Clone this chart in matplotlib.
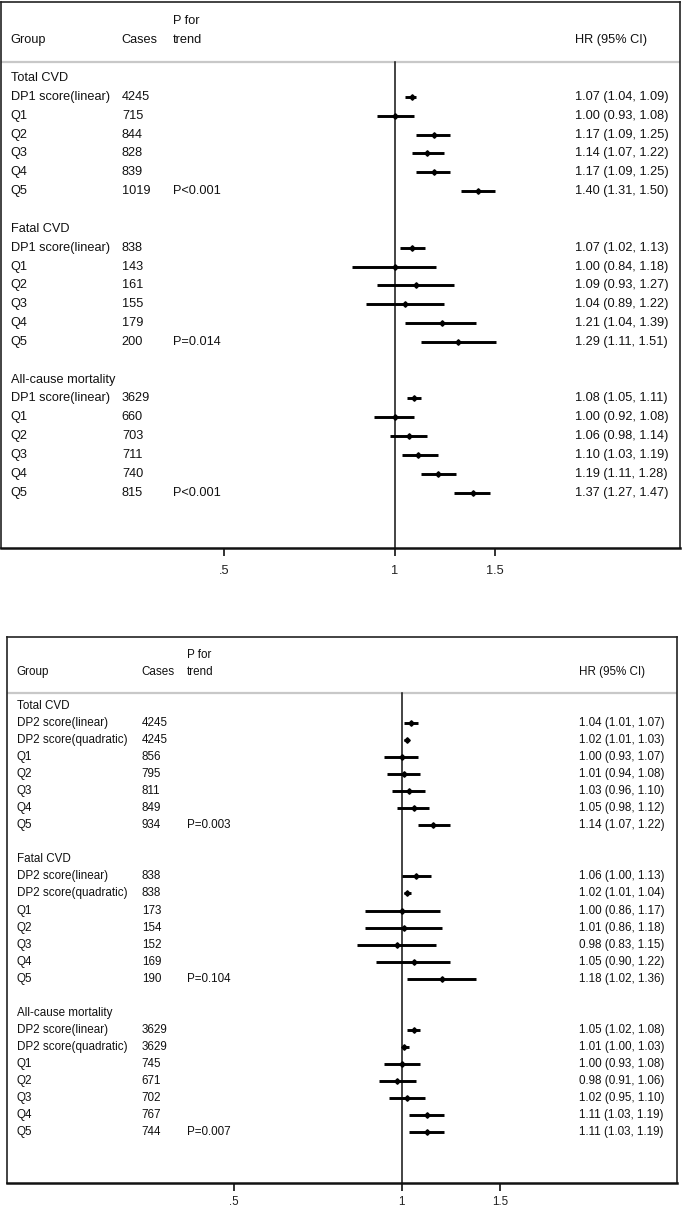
import matplotlib
matplotlib.use("Agg")
import matplotlib.pyplot as plt
import matplotlib.transforms as mtransforms

plt.rcParams['font.family'] = ['Liberation Sans', 'DejaVu Sans']

# ---- data: DP1 panel ----
top_sections = ["Total CVD", "Fatal CVD", "All-cause mortality"]
top_labels = ["DP1 score(linear)", "Q1", "Q2", "Q3", "Q4", "Q5"] * 3
top_cases = [4245, 715, 844, 828, 839, 1019,
             838, 143, 161, 155, 179, 200,
             3629, 660, 703, 711, 740, 815]
top_ptrend = ["", "", "", "", "", "P<0.001",
              "", "", "", "", "", "P=0.014",
              "", "", "", "", "", "P<0.001"]
top_hr = [1.07, 1.00, 1.17, 1.14, 1.17, 1.40,
          1.07, 1.00, 1.09, 1.04, 1.21, 1.29,
          1.08, 1.00, 1.06, 1.10, 1.19, 1.37]
top_lo = [1.04, 0.93, 1.09, 1.07, 1.09, 1.31,
          1.02, 0.84, 0.93, 0.89, 1.04, 1.11,
          1.05, 0.92, 0.98, 1.03, 1.11, 1.27]
top_hi = [1.09, 1.08, 1.25, 1.22, 1.25, 1.50,
          1.13, 1.18, 1.27, 1.22, 1.39, 1.51,
          1.11, 1.08, 1.14, 1.19, 1.28, 1.47]

# ---- data: DP2 panel ----
bot_sections = ["Total CVD", "Fatal CVD", "All-cause mortality"]
bot_labels = ["DP2 score(linear)", "DP2 score(quadratic)",
              "Q1", "Q2", "Q3", "Q4", "Q5"] * 3
bot_cases = [4245, 4245, 856, 795, 811, 849, 934,
             838, 838, 173, 154, 152, 169, 190,
             3629, 3629, 745, 671, 702, 767, 744]
bot_ptrend = ["", "", "", "", "", "", "P=0.003",
              "", "", "", "", "", "", "P=0.104",
              "", "", "", "", "", "", "P=0.007"]
bot_hr = [1.04, 1.02, 1.00, 1.01, 1.03, 1.05, 1.14,
          1.06, 1.02, 1.00, 1.01, 0.98, 1.05, 1.18,
          1.05, 1.01, 1.00, 0.98, 1.02, 1.11, 1.11]
bot_lo = [1.01, 1.01, 0.93, 0.94, 0.96, 0.98, 1.07,
          1.00, 1.01, 0.86, 0.86, 0.83, 0.90, 1.02,
          1.02, 1.00, 0.93, 0.91, 0.95, 1.03, 1.03]
bot_hi = [1.07, 1.03, 1.07, 1.08, 1.10, 1.12, 1.22,
          1.13, 1.04, 1.17, 1.18, 1.15, 1.22, 1.36,
          1.08, 1.03, 1.08, 1.06, 1.10, 1.19, 1.19]

xticks = [0.5, 1, 1.5]
xticklabels = [".5", "1", "1.5"]

W, H = 685, 1208
fig = plt.figure(figsize=(W / 100, H / 100), dpi=100)


def draw_panel(box, xlim, ylim, sep_row, cols, fs, pad,
               sections, labels, cases, ptrend, hr, lo, hi):
    left, top, right, bottom = box
    ax = fig.add_axes([left / W, 1 - bottom / H, (right - left) / W, (bottom - top) / H])
    ax.set_xscale("log")
    ax.set_xlim(*xlim)
    ax.set_ylim(*ylim)
    ax.minorticks_off()
    ax.set_xticks(xticks)
    ax.set_xticklabels(xticklabels)
    ax.set_yticks([])
    ax.tick_params(axis="x", direction="out", length=6, width=1.3, pad=pad,
                   labelsize=fs, colors="#222")
    for s in ["left", "right", "top"]:
        ax.spines[s].set_linewidth(1.2)
        ax.spines[s].set_color("#222")
    ax.spines["bottom"].set_linewidth(1.8)
    ax.spines["bottom"].set_color("#111")

    tr = mtransforms.blended_transform_factory(ax.transAxes, ax.transData)
    kw = dict(transform=tr, fontsize=fs, va="center", ha="left", color="#111")

    # header
    ax.text(cols[2], -3, "P for", **kw)
    ax.text(cols[0], -2, "Group", **kw)
    ax.text(cols[1], -2, "Cases", **kw)
    ax.text(cols[2], -2, "trend", **kw)
    ax.text(cols[3], -2, "HR (95% CI)", **kw)
    ax.axhline(sep_row, color="#c8c8c8", lw=1.6)
    ax.plot([1, 1], [sep_row, ylim[0]], color="#111", lw=1.1)

    n = len(labels) // len(sections)
    for si, sec in enumerate(sections):
        r0 = si * (n + 2)
        ax.text(cols[0], r0, sec, **kw)
        for j in range(n):
            i = si * n + j
            r = r0 + 1 + j
            ax.text(cols[0], r, labels[i], **kw)
            ax.text(cols[1], r, str(cases[i]), **kw)
            ax.text(cols[2], r, ptrend[i], **kw)
            ax.text(cols[3], r, f"{hr[i]:.2f} ({lo[i]:.2f}, {hi[i]:.2f})", **kw)
            ax.plot([lo[i], hi[i]], [r, r], color="black", lw=2.1,
                    solid_capstyle="butt")
            ax.plot(hr[i], r, marker="D", ms=2.8, color="black")
    return ax


# frame boxes in pixels: (left, top, right, bottom)
draw_panel((1, 2, 680, 548), (0.2020, 3.181), (24.93, -4.03), -0.85,
           (0.014, 0.178, 0.2533, 0.8454), 9.2, 6.0,
           top_sections, top_labels, top_cases, top_ptrend, top_hr, top_lo, top_hi)

draw_panel((6.7, 637, 676.7, 1183), (0.1955, 3.115), (28.0, -4.06), -0.79,
           (0.0149, 0.2015, 0.2687, 0.8542), 8.4, 3.5,
           bot_sections, bot_labels, bot_cases, bot_ptrend, bot_hr, bot_lo, bot_hi)

fig.savefig("out.png", dpi=100)
